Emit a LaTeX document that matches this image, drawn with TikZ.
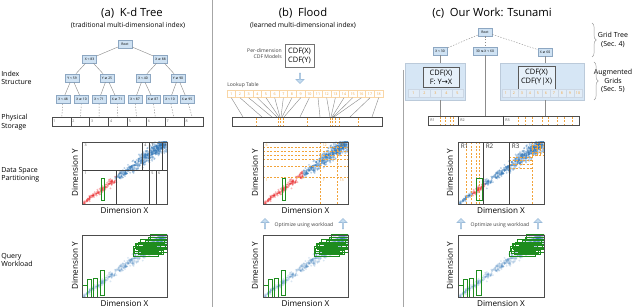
\documentclass[tikz,border=0pt]{standalone}
\usepackage{fontspec}
\setmainfont{Open Sans}
\newfontfamily\symfont{DejaVu Sans}
\usepackage{tikz}
\usetikzlibrary{calc}
\usetikzlibrary{positioning}
\usetikzlibrary{shapes.arrows}
\usetikzlibrary{decorations.pathreplacing}
\usepackage{xcolor}

\definecolor{nodeblue}{HTML}{CFE2F3}
\definecolor{nodeedge}{HTML}{8DA7C2}
\definecolor{gridblue}{HTML}{D6E6F5}
\definecolor{lutorange}{HTML}{F2A33A}
\definecolor{qgreen}{HTML}{1E8C1E}
\definecolor{ptblue}{HTML}{2F74B5}
\definecolor{ptred}{HTML}{E8282B}
\definecolor{arrowblue}{HTML}{C4DCF0}
\definecolor{arrowedge}{HTML}{9BBBD9}

\newcommand{\geqs}{{\symfont ≥}}
\newcommand{\leqs}{{\symfont ≤}}

% data points in the unit square, red for #1 < x < #2
\newcommand{\cloud}[3]{%
	\begin{scope}
		\clip (0,0) rectangle (1,1);
		\pgfmathsetseed{17}
		\foreach \i in {1,...,800}{
			\pgfmathsetmacro{\ct}{ifthenelse(\i<260,rnd,1-rnd*rnd)}
			\pgfmathsetmacro{\cw}{0.012+0.042*\ct}
			\pgfmathsetmacro{\cx}{\ct+\cw*(rand+rand)}
			\pgfmathsetmacro{\cy}{\ct+\cw*(rand+rand)}
			\pgfmathtruncatemacro{\cred}{and(\cx>#1,\cx<#2)}
			\ifnum\cred=1 \def\ccol{ptred}\else\def\ccol{ptblue}\fi
			\fill[\ccol, opacity=#3] (\cx,\cy) circle[radius=0.75pt];
		}
	\end{scope}}

% query rectangles in the unit square
\newcommand{\queries}{%
	\begin{scope}
		\clip (0,0) rectangle (1,1);
		\foreach \qa/\qb/\qc/\qd in {0.01/0/0.06/0.18, 0.06/0/0.11/0.29, 0.13/0/0.18/0.3, 0.22/0.03/0.27/0.42,
			0.60/0.66/0.90/0.74, 0.62/0.70/0.94/0.78, 0.61/0.74/0.88/0.81, 0.64/0.77/0.98/0.84,
			0.67/0.80/1.02/0.88, 0.70/0.72/1.02/0.79, 0.75/0.84/1.02/0.91, 0.78/0.88/1.02/0.96,
			0.80/0.93/1.02/1.0, 0.66/0.68/0.96/0.75, 0.72/0.76/1.02/0.83, 0.69/0.86/0.97/0.92, 0.63/0.80/0.92/0.87}
			\draw[qr] (\qa,\qb) rectangle (\qc,\qd);
	\end{scope}}

\begin{document}
\begin{tikzpicture}[x=0.025cm, y=-0.025cm,
		ttl/.style = {font=\fontsize{8}{9}\selectfont, inner sep=0pt},
		sub/.style = {font=\fontsize{4.8}{5.6}\selectfont, inner sep=0pt},
		side/.style = {font=\fontsize{5}{6}\selectfont, align=left, anchor=west, inner sep=0pt},
		axl/.style = {font=\fontsize{5.8}{6.5}\selectfont, inner sep=0pt},
		note/.style = {font=\fontsize{3.6}{4.3}\selectfont, text=black!75, inner sep=0pt},
		tn/.style = {rectangle, draw=nodeedge, fill=nodeblue, minimum width=0.35cm, minimum height=0.2cm, inner sep=0.3pt, font=\fontsize{2.4}{2.8}\selectfont},
		scell/.style = {rectangle, draw=black!70, text width=11.4pt, inner xsep=1pt, inner ysep=0pt, minimum height=0.225cm, align=left, font=\fontsize{2.6}{3}\selectfont, text=black!60},
		lcell/.style = {rectangle, draw=lutorange!45, fill=white, minimum width=0.217cm, minimum height=0.175cm, inner sep=0pt, font=\fontsize{2.6}{3}\selectfont, text=lutorange},
		gcell/.style = {rectangle, draw=nodeedge!45, fill=gridblue!70!white, minimum height=0.2cm, inner sep=0pt, font=\fontsize{2.6}{3}\selectfont, text=lutorange},
		cdf/.style = {rectangle, align=center, inner sep=0pt, font=\fontsize{5.3}{6.4}\selectfont},
		gbox/.style = {rectangle, draw=nodeedge!60, fill=gridblue, inner sep=0pt, minimum height=0.925cm},
		pbox/.style = {rectangle, draw=black!70, line width=0.6pt, minimum height=1.55cm, inner sep=0pt},
		tl/.style = {draw=black!45, line width=0.3pt},
		dl/.style = {draw=black!45, line width=0.3pt, dash pattern=on 1pt off 1pt},
		od/.style = {draw=lutorange, line width=0.5pt, dash pattern=on 1.5pt off 1pt},
		part/.style = {draw=black!75, line width=0.6pt},
		qr/.style = {draw=qgreen, line width=0.7pt},
		sepl/.style = {draw=black!35, line width=0.6pt},
		uparr/.style = {single arrow, draw=arrowedge, fill=arrowblue, shape border rotate=90, minimum height=0.26cm, minimum width=0.2cm, single arrow head extend=1.2pt, inner sep=0pt},
		brc/.style = {draw=black!40, line width=0.3pt, decorate, decoration={brace, amplitude=3pt}}
	]
	\useasboundingbox (0,0) rectangle (640,307);

	%Titles
	\node[ttl]	(ta)	at	(132,13)	{(a)\enspace K-d Tree};
	\node[sub]	(sa)	at	(128,25)	{(traditional multi-dimensional index)};
	\node[ttl]	(tb)	at	(303,13)	{(b)\enspace Flood};
	\node[sub]	(sb)	at	(303,25)	{(learned multi-dimensional index)};
	\node[ttl, anchor=west]	(tc)	at	(432,13)	{(c)\enspace Our Work: Tsunami};

	%Row labels
	\node[side]	(ri)	at	(1,78)	{Index\\Structure};
	\node[side]	(rp)	at	(1,122)	{Physical\\Storage};
	\node[side]	(rd)	at	(1,175)	{Data Space\\Partitioning};
	\node[side]	(rq)	at	(1,260)	{Query\\Workload};
	\node[side, anchor=center, align=center]	(rg)	at	(613,40)	{Grid Tree\\(Sec. 4)};
	\node[side, anchor=center, align=center]	(ra)	at	(613,81)	{Augmented\\Grids\\(Sec. 5)};
	\draw[brc]	(592,23)	--	(592,57);
	\draw[brc]	(594,62)	--	(594,100);

	%Separators
	\draw[sepl]	(212,0)	--	(212,307);
	\draw[sepl]	(403,70)	--	(403,307);

	%K-d tree
	\node[tn]	(r)	at	(125,44)	{Root};
	\node[tn]	(a1)	at	(89.5,59)	{X < 83};
	\node[tn]	(a2)	at	(160.5,59)	{X \geqs\ 88};
	\node[tn]	(b1)	at	(72,78)	{Y < 59};
	\node[tn]	(b2)	at	(107,78)	{Y \geqs\ 25};
	\node[tn]	(b3)	at	(143,78)	{X < 40};
	\node[tn]	(b4)	at	(178,78)	{Y \geqs\ 90};
	\node[tn]	(k1)	at	(63,99.5)	{X < 48};
	\node[tn]	(k2)	at	(81.5,99.5)	{X \geqs\ 10};
	\node[tn]	(k3)	at	(99,99.5)	{X < 71};
	\node[tn]	(k4)	at	(117,99.5)	{X \geqs\ 71};
	\node[tn]	(k5)	at	(135,99.5)	{X < 87};
	\node[tn]	(k6)	at	(153,99.5)	{X \geqs\ 87};
	\node[tn]	(k7)	at	(170,99.5)	{X < 10};
	\node[tn]	(k8)	at	(187,99.5)	{X \geqs\ 95};
	\draw[tl]	(r)	--	(a1);
	\draw[tl]	(r)	--	(a2);
	\draw[tl]	(a1)	--	(b1);
	\draw[tl]	(a1)	--	(b2);
	\draw[tl]	(a2)	--	(b3);
	\draw[tl]	(a2)	--	(b4);
	\draw[tl]	(b1)	--	(k1);
	\draw[tl]	(b1)	--	(k2);
	\draw[tl]	(b2)	--	(k3);
	\draw[tl]	(b2)	--	(k4);
	\draw[tl]	(b3)	--	(k5);
	\draw[tl]	(b3)	--	(k6);
	\draw[tl]	(b4)	--	(k7);
	\draw[tl]	(b4)	--	(k8);

	%K-d storage
	\foreach \k in {1,...,8}
		\node[scell]	(s\k)	at	({52+18.875*\k-9.44},121.5)	{\k};
	\foreach \k in {1,...,8}
		\draw[dl]	(k\k)	--	(s\k);

	%K-d partitions
	\begin{scope}[shift={(82,204)}, x=2.125cm, y=1.55cm]
		\cloud{-1}{0.39}{0.34}
		\draw[part]	(0,0.548)	--	(1,0.548);
		\draw[part]	(0.4,0)	--	(0.4,0.548);
		\draw[part]	(0.706,0.548)	--	(0.706,1);
		\draw[part]	(0.788,0)	--	(0.788,1);
		\draw[part]	(0.87,0)	--	(0.87,0.548);
		\draw[part]	(0.95,0.548)	--	(0.95,1);
		\draw[qr]	(0.224,0.053)	rectangle	(0.262,0.41);
		\foreach \px/\py/\t in {0.02/0.98/3, 0.725/0.98/4, 0.805/0.98/7, 0.962/0.98/8, 0.02/0.53/1, 0.42/0.53/2, 0.805/0.53/5, 0.885/0.53/6}
			\node[anchor=north west, inner sep=0.4pt, font=\fontsize{2.6}{3}\selectfont, text=black!70]	at	(\px,\py)	{\t};
	\end{scope}
	\node[pbox, minimum width=2.125cm]	(pa)	at	(124.5,173)	{};
	\node[axl]	(xa)	at	(124.5,211)	{Dimension X};
	\node[axl, rotate=90]	(ya)	at	(75,173)	{Dimension Y};

	%K-d workload
	\begin{scope}[shift={(82,297)}, x=2.125cm, y=1.55cm]
		\cloud{2}{2}{0.18}
		\queries
	\end{scope}
	\node[pbox, minimum width=2.125cm]	(qa)	at	(124.5,266)	{};
	\node[axl]	(xqa)	at	(124.5,304)	{Dimension X};
	\node[axl, rotate=90]	(yqa)	at	(75,266)	{Dimension Y};

	%Flood models
	\node[note, align=right, anchor=east]	(pd)	at	(282,53.5)	{Per-dimension\\CDF Models};
	\node[cdf, draw=black!55, minimum width=0.725cm, minimum height=0.575cm]	(cm)	at	(299.5,55.5)	{CDF(X)\\CDF(Y)};
	\node[uparr, shape border rotate=270]	(da)	at	(300,78)	{};
	\node[note, anchor=west]	(lt)	at	(227,85)	{Lookup Table};

	%Flood lookup table and storage
	\foreach \k in {1,...,18}
		\node[lcell]	(lu\k)	at	({227+8.667*\k-4.33},94)	{\k};
	\node[rectangle, draw=black!70, minimum width=3.75cm, minimum height=0.225cm, inner sep=0pt]	(fs)	at	(307,121.5)	{};
	\foreach \k/\x in {1/243, 2/262, 3/272, 4/277, 5/279, 6/280, 7/281, 8/282, 9/284, 10/300, 11/320, 12/330, 13/331, 14/332, 15/333, 16/334, 17/350, 18/372}
		\coordinate	(ft\k)	at	(\x,117);
	\foreach \k in {1,...,18}
		\draw[tl]	(lu\k.south)	--	(ft\k);
	\foreach \x in {256, 278, 280.5, 283, 307, 330, 332.5, 335, 339, 358}
		\draw[od]	(\x,117.8)	--	(\x,125.2);

	%Flood grid
	\begin{scope}[shift={(263,204)}, x=2.125cm, y=1.55cm]
		\cloud{-1}{0.47}{0.34}
		\foreach \gx in {0.67, 0.87}
			\draw[od]	(\gx,0)	--	(\gx,1);
		\foreach \gy in {0.435, 0.613, 0.726, 0.79, 0.855, 0.92}
			\draw[od]	(0,\gy)	--	(1,\gy);
		\foreach \px/\py/\t in {0.02/0.99/6, 0.69/0.99/12, 0.89/0.99/18, 0.02/0.425/1, 0.69/0.425/7, 0.89/0.425/13}
			\node[anchor=north west, inner sep=0.4pt, font=\fontsize{2.6}{3}\selectfont, text=lutorange]	at	(\px,\py)	{\t};
		\draw[qr]	(0.224,0.053)	rectangle	(0.262,0.41);
	\end{scope}
	\node[pbox, minimum width=2.125cm]	(pb)	at	(305.5,173)	{};
	\node[axl]	(xb)	at	(305.5,211)	{Dimension X};
	\node[axl, rotate=90]	(yb)	at	(255,173)	{Dimension Y};

	%Flood workload
	\node[uparr]	(ub1)	at	(265,224)	{};
	\node[uparr]	(ub2)	at	(343,224)	{};
	\node[note]	(ob)	at	(304,225)	{Optimize using workload};
	\begin{scope}[shift={(263,297)}, x=2.125cm, y=1.55cm]
		\cloud{2}{2}{0.18}
		\queries
	\end{scope}
	\node[pbox, minimum width=2.125cm]	(qb)	at	(305.5,266)	{};
	\node[axl]	(xqb)	at	(305.5,304)	{Dimension X};
	\node[axl, rotate=90]	(yqb)	at	(255,266)	{Dimension Y};

	%Tsunami grid tree
	\node[tn]	(cr)	at	(485,32)	{Root};
	\node[tn]	(c1)	at	(440,51)	{X < 30};
	\node[tn, minimum width=0.6cm]	(c2)	at	(485,51)	{30 \leqs\ X < 60};
	\node[tn]	(c3)	at	(545,52)	{X \geqs\ 60};
	\draw[dl]	(cr)	--	(c1);
	\draw[dl]	(cr)	--	(c2);
	\draw[dl]	(cr)	--	(c3);

	%Augmented grids
	\node[gbox, minimum width=1.5cm]	(gl)	at	(435,81.5)	{};
	\node[cdf, draw=black!65, line width=0.6pt, fill=gridblue!60!white, minimum width=0.9cm, minimum height=0.5cm]	(gli)	at	(441,77)	{CDF(X)\\F: Y{\symfont →}X};
	\foreach \k in {1,...,5}
		\node[gcell, minimum width=0.275cm]	(gc\k)	at	({408+11*\k-5.5},93)	{\k};
	\node[gbox, minimum width=2.1cm]	(gr)	at	(542,81.5)	{};
	\node[cdf, draw=black!65, line width=0.6pt, fill=gridblue!60!white, minimum width=0.925cm, minimum height=0.575cm]	(gri)	at	(536.5,77.5)	{CDF(X)\\CDF(Y|X)};
	\foreach \k in {1,...,10}
		\node[gcell, minimum width=0.2cm]	(gd\k)	at	({502+8*\k-4},93)	{\k};

	%Tsunami storage
	\node[rectangle, draw=black!70, minimum width=3.775cm, minimum height=0.225cm, inner sep=0pt]	(ts)	at	(503.5,120.5)	{};
	\draw[part, line width=0.4pt]	(458,116)	--	(458,125);
	\draw[part, line width=0.4pt]	(503,116)	--	(503,125);
	\foreach \x/\t in {430/R1, 460/R2, 505/R3}
		\node[anchor=west, inner sep=0pt, font=\fontsize{2.6}{3}\selectfont, text=black!70]	at	(\x,120.5)	{\t};
	\foreach \x in {440, 445, 450, 453, 518, 525, 532, 542, 548, 557, 564, 572}
		\draw[od]	(\x,116.8)	--	(\x,124.2);
	\draw[tl]	(c1)	--	(c1 |- gl.north);
	\draw[tl]	(c1 |- gl.south)	--	(c1 |- ts.north);
	\draw[tl]	(c2)	--	(c2 |- ts.north);
	\draw[tl]	(c3)	--	(c3 |- gr.north);
	\draw[tl]	(c3 |- gr.south)	--	(c3 |- ts.north);

	%Tsunami partitions
	\begin{scope}[shift={(458,204)}, x=2.15cm, y=1.55cm]
		\cloud{0.17}{0.31}{0.34}
		\foreach \gx in {0.093, 0.151, 0.209, 0.244, 0.86}
			\draw[od]	(\gx,0)	--	(\gx,1);
		\foreach \gy in {0.58, 0.645, 0.71, 0.758}
			\draw[od]	(0.593,\gy)	--	(0.86,\gy);
		\foreach \gy in {0.79, 0.84, 0.90, 0.95}
			\draw[od]	(0.86,\gy)	--	(1,\gy);
		\foreach \gx in {0.92, 0.953}
			\draw[od]	(\gx,0.79)	--	(\gx,1);
		\draw[part]	(0.29,0)	--	(0.29,1);
		\draw[part]	(0.593,0)	--	(0.593,1);
		\foreach \px/\t in {0.02/R1, 0.31/R2, 0.613/R3}
			\node[anchor=north west, inner sep=0.6pt, font=\fontsize{4.5}{5}\selectfont, text=black!80]	at	(\px,0.99)	{\t};
		\draw[qr]	(0.22,0.053)	rectangle	(0.28,0.41);
	\end{scope}
	\node[pbox, minimum width=2.15cm]	(pc)	at	(501,173)	{};
	\node[axl]	(xc)	at	(501,211)	{Dimension X};
	\node[axl, rotate=90]	(yc)	at	(450,173)	{Dimension Y};

	%Tsunami workload
	\node[uparr]	(uc1)	at	(461,224)	{};
	\node[uparr]	(uc2)	at	(538,224)	{};
	\node[note]	(oc)	at	(500,225)	{Optimize using workload};
	\begin{scope}[shift={(458,297)}, x=2.15cm, y=1.55cm]
		\cloud{2}{2}{0.18}
		\queries
	\end{scope}
	\node[pbox, minimum width=2.15cm]	(qc)	at	(501,266)	{};
	\node[axl]	(xqc)	at	(501,304)	{Dimension X};
	\node[axl, rotate=90]	(yqc)	at	(450,266)	{Dimension Y};
\end{tikzpicture}
\end{document}
